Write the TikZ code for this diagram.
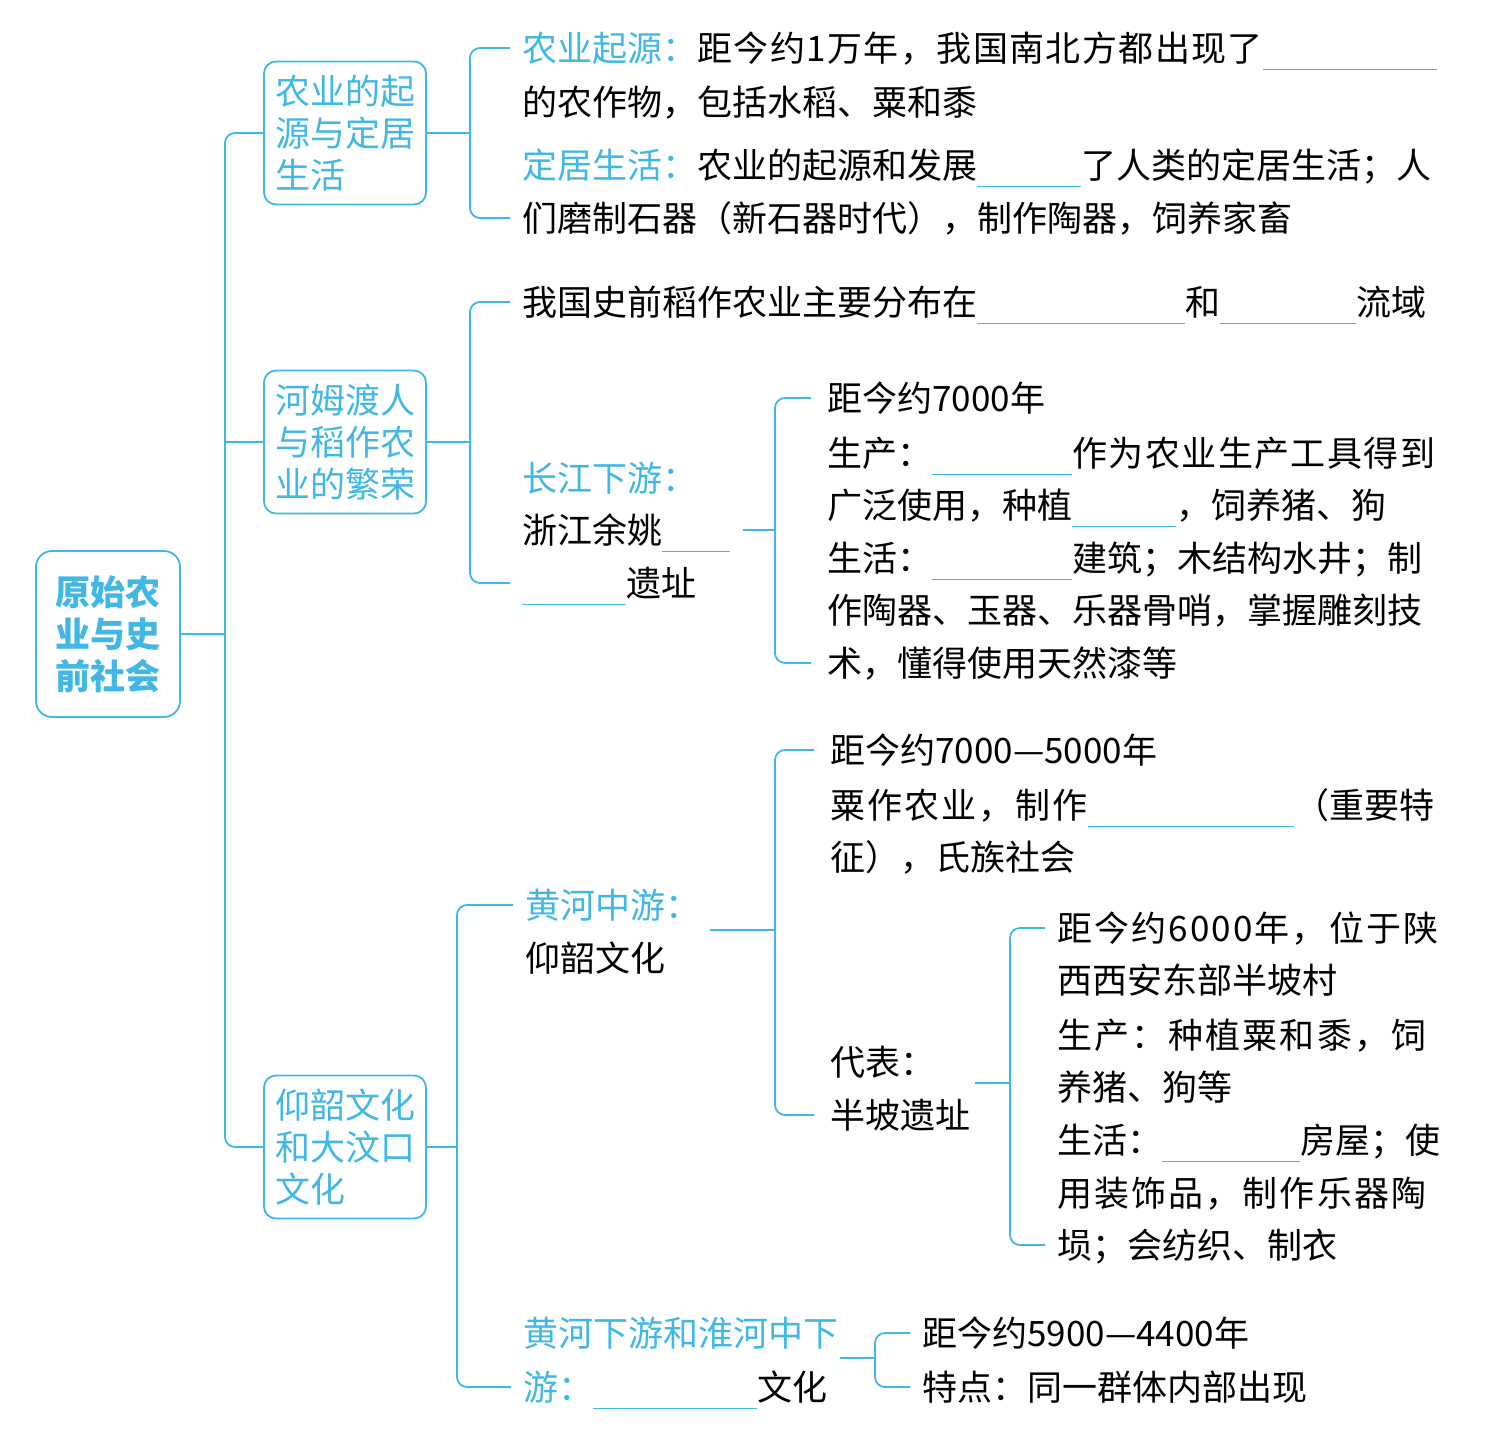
\documentclass[tikz,border=0pt]{standalone}
\usepackage{fontspec}
\setmainfont{Noto Sans CJK SC}
\usepackage{xcolor}
\usetikzlibrary{positioning, calc}
\definecolor{mapblue}{RGB}{64,183,228}
\newcommand{\hd}[1]{\textcolor{mapblue}{#1}}
\newcommand{\blank}[1]{\textcolor{mapblue}{\rule[-4.5pt]{#1}{0.8pt}}}
\newcommand{\spread}{\addfontfeature{LetterSpace=6}}
\newcommand{\spreadless}{\addfontfeature{LetterSpace=4}}

\begin{document}
\begin{tikzpicture}[
    x=0.5pt, y=-0.5pt,
    every node/.style={font=\fontsize{17.5pt}{21pt}\selectfont},
    conn/.style={draw=mapblue, line width=0.9pt, rounded corners=5pt},
    root/.style={rectangle, draw=mapblue, line width=0.9pt, rounded corners=8pt, minimum width=72pt, minimum height=83pt, align=center, text=mapblue, font=\fontsize{17.5pt}{21pt}\selectfont\bfseries},
    topic/.style={rectangle, draw=mapblue, line width=0.9pt, rounded corners=6pt, minimum width=81pt, minimum height=71.5pt, text width=70pt, align=left, text=mapblue},
    txt/.style={anchor=west, inner sep=0pt, text height=13.3pt, text depth=0pt}
]
    \useasboundingbox (0,0) rectangle (1508,1455);

    \node[root] (root) at (108,634) {原始农\\业与史\\前社会};
    \node[topic] (orig) at (345,133) {农业的起\\源与定居\\生活};
    \node[topic] (hemu) at (345,442) {河姆渡人\\与稻作农\\业的繁荣};
    \node[topic] (yang) at (345,1147) {仰韶文化\\和大汶口\\文化};

    \node[txt] (s1a) at (522,48) {\hd{农业起源：}{\spreadless 距今约1万年，我国南北方都出现了}\blank{87pt}};
    \node[txt] (s1b) at (522,102) {的农作物，包括水稻、粟和黍};
    \node[txt] (s1c) at (522,165) {\hd{定居生活：}农业的起源和发展\blank{52pt}了人类的定居生活；人};
    \node[txt] (s1d) at (522,218) {们磨制石器（新石器时代），制作陶器，饲养家畜};

    \node[txt] (s2a) at (522,302) {我国史前稻作农业主要分布在\blank{104pt}和\blank{68pt}流域};
    \node[txt] (s2b) at (522,478) {\hd{长江下游：}};
    \node[txt] (s2c) at (522,530) {浙江余姚\blank{34pt}};
    \node[txt] (s2d) at (522,583) {\blank{52pt}遗址};

    \node[txt] (h1) at (827,398) {距今约7000年};
    \node[txt] (h2) at (827,453) {生产：\blank{70pt}{\spreadless 作为农业生产工具得到}};
    \node[txt] (h3) at (827,505) {广泛使用，种植\blank{52pt}，饲养猪、狗};
    \node[txt] (h4) at (827,558) {生活：\blank{70pt}建筑；木结构水井；制};
    \node[txt] (h5) at (827,610) {作陶器、玉器、乐器骨哨，掌握雕刻技};
    \node[txt] (h6) at (827,663) {术，懂得使用天然漆等};

    \node[txt] (y1) at (525,905) {\hd{黄河中游：}};
    \node[txt] (y2) at (525,958) {仰韶文化};
    \node[txt] (g1) at (830,750) {距今约7000—5000年};
    \node[txt] (g2) at (830,805) {{\spread 粟作农业，制作}\blank{103pt}（重要特};
    \node[txt] (g3) at (830,857) {征），氏族社会};
    \node[txt] (g4) at (830,1062) {代表：};
    \node[txt] (g5) at (830,1115) {半坡遗址};

    \node[txt] (p1) at (1057,928) {\spread 距今约6000年，位于陕};
    \node[txt] (p2) at (1057,980) {西西安东部半坡村};
    \node[txt] (p3) at (1057,1035) {\spread 生产：种植粟和黍，饲};
    \node[txt] (p4) at (1057,1087) {养猪、狗等};
    \node[txt] (p5) at (1057,1140) {生活：\blank{69pt}房屋；使};
    \node[txt] (p6) at (1057,1193) {\spread 用装饰品，制作乐器陶};
    \node[txt] (p7) at (1057,1245) {埙；会纺织、制衣};

    \node[txt] (d1) at (523,1333) {\hd{黄河下游和淮河中下}};
    \node[txt] (d2) at (523,1387) {\hd{游：}\blank{82pt}文化};
    \node[txt] (e1) at (922,1333) {距今约5900—4400年};
    \node[txt] (e2) at (922,1387) {特点：同一群体内部出现};

    \coordinate (trunk) at (225,634);
    \coordinate (k1) at (470,133);
    \coordinate (k2) at (470,442);
    \coordinate (k3) at (457,1147);
    \coordinate (kc) at (775,530);
    \coordinate (ys) at (710,930);
    \coordinate (yc) at (775,930);
    \coordinate (bs) at (975,1083);
    \coordinate (bc) at (1010,1083);
    \coordinate (ds) at (840,1358);
    \coordinate (dc) at (875,1358);

    \draw[conn] (root.east) -- (trunk);
    \draw[conn] (orig.west) -| (trunk) |- (yang.west);
    \draw[conn] (hemu.west) -- (hemu.west -| trunk);

    \draw[conn] (orig.east) -- (k1);
    \draw[conn] ([xshift=-6pt]s1a.west) -| (k1) |- ([xshift=-6pt]s1d.west);
    \draw[conn] (hemu.east) -- (k2);
    \draw[conn] ([xshift=-6pt]s2a.west) -| (k2) |- ([xshift=-6pt]s2d.west);
    \draw[conn] ([xshift=6pt]s2c.east) -- (kc);
    \draw[conn] ([xshift=-8pt]h1.west) -| (kc) |- ([xshift=-8pt]h6.west);

    \draw[conn] (yang.east) -- (k3);
    \draw[conn] ([xshift=-6pt]y1.west) -| (k3) |- ([xshift=-6pt]d2.west);
    \draw[conn] (ys) -- (yc);
    \draw[conn] ([xshift=-8pt]g1.west) -| (yc) |- ([xshift=-8pt]g5.west);
    \draw[conn] (bs) -- (bc);
    \draw[conn] ([xshift=-6pt]p1.west) -| (bc) |- ([xshift=-6pt]p7.west);
    \draw[conn] (ds) -- (dc);
    \draw[conn] ([xshift=-6pt]e1.west) -| (dc) |- ([xshift=-6pt]e2.west);
\end{tikzpicture}
\end{document}
